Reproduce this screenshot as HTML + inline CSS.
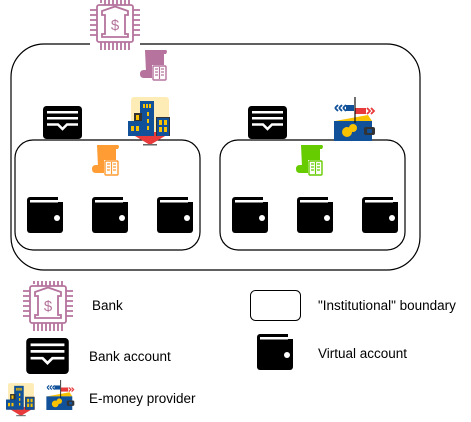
<!DOCTYPE html>
<html><head><meta charset="utf-8"><style>
html,body{margin:0;padding:0;background:#fff;width:471px;height:422px;overflow:hidden}
svg{display:block}
text{font-family:"Liberation Sans",Arial,sans-serif;font-size:13.5px;fill:#000}
</style></head><body>
<svg width="471" height="422" viewBox="0 0 471 422" xmlns="http://www.w3.org/2000/svg">
<defs>
<symbol id="bank" viewBox="0 0 50 50">
 <g stroke="#B5739D" stroke-width="1.8" fill="none">
  <rect x="7" y="5" width="36" height="37" rx="2"/>
  <path d="M12 11 L25 6.5 L38 11 L38 15 L35 15 L35 34 L38 34 L38 37 L12 37 L12 34 L15 34 L15 15 L12 15 Z"/>
  <path d="M11 3V0 M15 5V0 M19 5V0 M23 5V0 M27 5V0 M31 5V0 M35 5V0 M39 5V0 M11 42V50 M15 42V50 M19 42V50 M23 42V50 M27 42V50 M31 42V50 M35 42V50 M39 42V50 M0 10H7 M0 15H7 M0 20H7 M0 25H7 M0 30H7 M0 35H7 M43 10H50 M43 15H50 M43 20H50 M43 25H50 M43 30H50 M43 35H50"/>
 </g>
 <text x="25" y="30" text-anchor="middle" style="font-size:15px;fill:#B5739D">$</text>
</symbol>
<symbol id="acct" viewBox="0 0 39 33">
 <rect x="0" y="0" width="39" height="33" rx="3.5" fill="#000"/>
 <rect x="4" y="5" width="31" height="2.5" fill="#fff"/>
 <rect x="4" y="11" width="31" height="2.5" fill="#fff"/>
 <path d="M4 18.5 H15 L19.5 23 L24 18.5 H35" stroke="#fff" stroke-width="2.5" fill="none"/>
</symbol>
<symbol id="wal" viewBox="0 0 36 36">
 <rect x="0" y="0" width="36" height="36" rx="3" fill="#000"/>
 <rect x="31" y="-1" width="6" height="6" fill="#fff"/>
 <rect x="3" y="3" width="28" height="2.5" fill="#fff"/>
 <circle cx="30" cy="21" r="3" fill="#fff"/>
</symbol>
<symbol id="scroll" viewBox="0 0 28 32">
 <path d="M5 0 H26 Q28 1 26 4 H24 V22 H6 Z" fill="currentColor"/>
 <path d="M0 24 Q0 20 4 20 H14 V28 H4 Q0 28 0 24Z" fill="currentColor"/>
 <rect x="12" y="15" width="15" height="16" fill="#fff"/>
 <rect x="13" y="16" width="13" height="14" rx="1" fill="none" stroke="currentColor" stroke-width="1.4"/>
 <path d="M19.5 17V29 M15 19h3 M15 22h3 M15 25h3 M21 19h3 M21 22h3 M21 25h3" stroke="currentColor" stroke-width="1.2"/>
</symbol>
<symbol id="bld" viewBox="0 0 44 51">
 <rect x="3" y="0" width="38" height="38" rx="3" fill="#fdecb5"/>
 <path d="M2 36 H42 L22 48 Z" fill="#e83a3a"/>
 <rect x="2" y="35" width="40" height="4" fill="#e83a3a"/>
 <rect x="15" y="47" width="14" height="1.5" fill="#666"/>
 <rect x="12" y="4" width="14" height="35" fill="#10519a"/>
 <rect x="6" y="16" width="8" height="10" fill="#333"/>
 <rect x="0" y="24" width="16" height="15" fill="#10519a"/>
 <rect x="28" y="20" width="14" height="19" fill="#333"/>
 <rect x="29" y="21" width="12" height="18" fill="#10519a"/>
 <g fill="#f9c200">
  <rect x="15" y="7" width="2" height="4"/><rect x="18" y="7" width="2" height="4"/><rect x="21" y="7" width="2" height="4"/>
  <rect x="19" y="15" width="2" height="4"/><rect x="19" y="22" width="2" height="4"/><rect x="19" y="29" width="2" height="4"/>
  <rect x="8" y="18" width="3" height="5"/>
  <rect x="3" y="29" width="3" height="5"/><rect x="8" y="29" width="3" height="5"/>
  <rect x="31" y="23" width="3" height="5"/><rect x="36" y="23" width="3" height="5"/><rect x="31" y="30" width="3" height="5"/><rect x="36" y="30" width="3" height="5"/>
 </g>
</symbol>
<symbol id="emw" viewBox="0 0 44 44">
 <path d="M14 8 H22 V14 H14 Z" fill="#10519a"/>
 <path d="M3 11 L6 8 M7 11 L10 8 M11 11 L14 8 M3 11 L6 14 M7 11 L10 14 M11 11 L14 14" stroke="#10519a" stroke-width="1.8" fill="none"/>
 <path d="M23 11 H34 V17 H23 Z" fill="#e83a3a"/>
 <path d="M35 11 L38 14 L35 17 M39 11 L42 14 L39 17" stroke="#e83a3a" stroke-width="1.8" fill="none"/>
 <path d="M3 24 L36 18 L40 24 Z" fill="#f9c200"/>
 <rect x="2" y="24" width="38" height="20" fill="#10519a"/>
 <line x1="23" y1="0" x2="23" y2="26" stroke="#111" stroke-width="1.2"/>
 <circle cx="15" cy="35" r="5" fill="#f9c200"/>
 <circle cx="21" cy="31" r="4" fill="#f9c200"/>
 <rect x="32" y="30" width="11" height="8" rx="2" fill="#333"/>
 <rect x="35" y="32" width="5" height="4" rx="1" fill="#10519a"/>
</symbol>
</defs>

<rect x="11" y="44" width="409" height="226" rx="33" fill="none" stroke="#000" stroke-width="1.2"/>
<rect x="15" y="140" width="185" height="110" rx="18" fill="none" stroke="#000" stroke-width="1.2"/>
<rect x="220" y="140" width="185" height="110" rx="18" fill="none" stroke="#000" stroke-width="1.2"/>

<rect x="90" y="0" width="50" height="50" fill="#fff"/>
<use href="#bank" x="90" y="0" width="50" height="50"/>
<use href="#scroll" x="140" y="50" width="28" height="32" style="color:#B5739D"/>
<use href="#acct" x="43" y="106" width="39" height="33"/>
<use href="#bld" x="128" y="97" width="44" height="51"/>
<use href="#acct" x="248" y="106" width="39" height="33"/>
<use href="#emw" x="332" y="97" width="44" height="44"/>
<use href="#scroll" x="92" y="145" width="28" height="32" style="color:#ff9c33"/>
<use href="#scroll" x="296" y="145" width="28" height="32" style="color:#66cc00"/>

<use href="#wal" x="27" y="197" width="36" height="36"/>
<use href="#wal" x="92" y="197" width="36" height="36"/>
<use href="#wal" x="157" y="197" width="36" height="36"/>
<use href="#wal" x="232" y="197" width="36" height="36"/>
<use href="#wal" x="297" y="197" width="36" height="36"/>
<use href="#wal" x="362" y="197" width="36" height="36"/>

<use href="#bank" x="23" y="281" width="50" height="50"/>
<text x="92" y="310">Bank</text>
<use href="#acct" x="26" y="338" width="43" height="36"/>
<text x="89" y="361">Bank account</text>
<use href="#bld" x="6" y="383" width="30" height="35"/>
<use href="#emw" x="45" y="380" width="30" height="30"/>
<text x="89" y="403">E-money provider</text>

<rect x="250.5" y="290.5" width="50" height="30" rx="5" fill="none" stroke="#000" stroke-width="1"/>
<text x="318" y="310">"Institutional" boundary</text>
<use href="#wal" x="257" y="334" width="36" height="36"/>
<text x="318" y="358">Virtual account</text>
</svg>
</body></html>
